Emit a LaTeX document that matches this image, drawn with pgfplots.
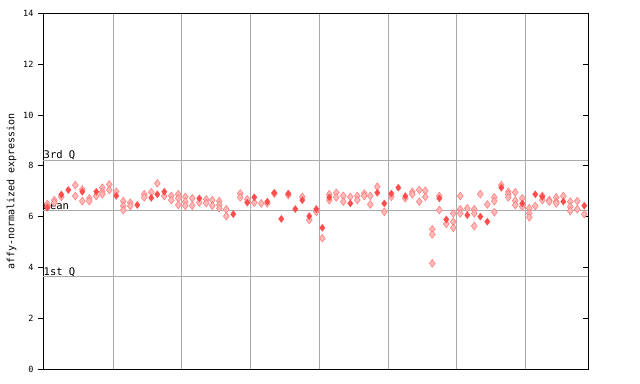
\documentclass[border=0pt]{standalone}
\usepackage{pgfplots}
\pgfplotsset{compat=1.18}
\usepackage{pgfplotstable}
\usepackage{fontspec}
\setmainfont{DejaVu Sans Mono}
\definecolor{ptred}{HTML}{FF4D4D}
\definecolor{gridg}{HTML}{AAAAAA}
\pgfplotstableread{
x y
47.3 6.35
61.3 6.87
68.3 7.05
82.3 6.98
96.3 6.98
116.3 6.82
137.3 6.46
151.3 6.74
157.3 6.88
164.3 6.98
199.3 6.72
233.3 6.10
247.3 6.55
254.3 6.76
267.3 6.59
274.3 6.94
281.3 5.91
288.3 6.91
295.3 6.30
302.3 6.65
309.3 6.02
316.3 6.30
322.3 5.56
329.3 6.76
350.3 6.52
377.3 6.94
384.3 6.52
391.3 6.91
398.3 7.14
405.3 6.81
439.3 6.72
446.3 5.89
467.3 6.06
480.3 6.00
487.3 5.80
501.3 7.14
522.3 6.52
535.3 6.88
542.3 6.78
563.3 6.59
584.3 6.43
}\filledpts
\pgfplotstableread{
x y
47.3 6.50
47.3 6.39
54.3 6.65
54.3 6.55
61.3 6.78
75.3 7.24
75.3 6.81
82.3 7.07
82.3 6.61
89.3 6.72
89.3 6.61
96.3 6.81
102.3 7.14
102.3 6.98
102.3 6.88
109.3 7.27
109.3 7.05
116.3 6.98
123.3 6.61
123.3 6.42
123.3 6.26
130.3 6.55
130.3 6.42
144.3 6.88
144.3 6.76
151.3 6.96
157.3 7.31
164.3 6.81
171.3 6.82
171.3 6.65
178.3 6.88
178.3 6.72
178.3 6.46
185.3 6.78
185.3 6.59
185.3 6.43
192.3 6.72
192.3 6.43
199.3 6.55
206.3 6.68
206.3 6.53
212.3 6.65
212.3 6.43
219.3 6.61
219.3 6.46
219.3 6.33
226.3 6.29
226.3 6.02
240.3 6.91
240.3 6.76
247.3 6.68
254.3 6.55
261.3 6.52
267.3 6.52
274.3 6.91
288.3 6.85
302.3 6.78
309.3 5.87
316.3 6.19
322.3 5.15
329.3 6.88
329.3 6.65
336.3 6.94
336.3 6.76
343.3 6.82
343.3 6.59
350.3 6.78
357.3 6.82
357.3 6.65
364.3 6.91
364.3 6.81
370.3 6.82
370.3 6.48
377.3 7.18
384.3 6.19
391.3 6.78
405.3 6.72
412.3 6.98
412.3 6.88
419.3 7.05
419.3 6.59
425.3 7.02
425.3 6.78
432.3 5.50
432.3 5.30
432.3 4.16
439.3 6.81
439.3 6.26
446.3 5.71
453.3 6.13
453.3 5.80
453.3 5.56
460.3 6.81
460.3 6.29
460.3 6.13
467.3 6.33
474.3 6.29
474.3 6.13
474.3 5.63
480.3 6.89
487.3 6.48
494.3 6.76
494.3 6.61
494.3 6.17
501.3 7.24
508.3 6.98
508.3 6.88
508.3 6.76
515.3 6.96
515.3 6.63
515.3 6.46
522.3 6.72
522.3 6.39
529.3 6.33
529.3 6.13
529.3 5.97
535.3 6.42
542.3 6.82
542.3 6.65
549.3 6.65
549.3 6.59
556.3 6.76
556.3 6.59
556.3 6.52
563.3 6.81
570.3 6.59
570.3 6.39
570.3 6.22
577.3 6.61
577.3 6.29
584.3 6.10
}\checkpts
\begin{document}
\begin{tikzpicture}
\begin{axis}[
  at={(0,0)}, anchor=south west,
  scale only axis,
  width=545bp, height=355.5bp,
  xmin=43, xmax=588, ymin=0, ymax=14,
  axis line style={black, line width=1pt},
  xtick={113,181.5,250.5,319.3,388.3,456.5,525.5},
  xticklabels={},
  major x tick style={draw=none},
  xmajorgrids,
  extra y ticks={3.63,6.23,8.23},
  extra y tick labels={},
  extra y tick style={grid=major, major tick length=0pt},
  grid style={gridg, line width=0.9pt},
  ytick={0,2,...,14},
  ytick pos=left,
  tick align=outside,
  major tick length=5bp,
  tick style={black, line width=0.8pt},
  /pgf/number format/assume math mode=true,
  yticklabel style={font=\fontsize{8.5bp}{9bp}\selectfont, xshift=-1bp},
  ylabel={affy-normalized expression},
  ylabel style={font=\fontsize{10bp}{11bp}\selectfont, at={(-31.3bp,0.5)}, anchor=center},
  clip=false,
]
\addplot[only marks, mark=diamond*, mark size=3.9bp, mark options={draw=ptred!75, fill=ptred!40, line width=0.5pt}] table[x=x,y=y] {\checkpts};
\addplot[only marks, mark=diamond*, mark size=3.5bp, mark options={draw=ptred, fill=ptred}] table[x=x,y=y] {\filledpts};
\node[anchor=base west, font=\fontsize{10.5bp}{11bp}\selectfont, inner sep=0pt] at (axis cs:43.5,8.3) {3rd Q};
\node[anchor=base west, font=\fontsize{10.5bp}{11bp}\selectfont, inner sep=0pt] at (axis cs:43.5,6.3) {mean};
\node[anchor=base west, font=\fontsize{10.5bp}{11bp}\selectfont, inner sep=0pt] at (axis cs:43.5,3.7) {1st Q};
\pgfplotsinvokeforeach{2,4,6,8,10,12}{
  \draw[black, line width=0.8pt] (axis cs:588,#1) -- ++(-5bp,0bp);
}
\end{axis}
\pgfresetboundingbox
\path[use as bounding box] (-43bp,-15bp) rectangle (597bp,369bp);
\end{tikzpicture}
\end{document}
